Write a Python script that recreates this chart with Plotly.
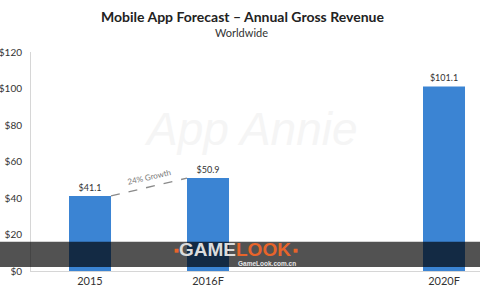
import plotly.graph_objects as go

categories = ["2015", "2016F", " ", "2020F"]
revenue = [41.1, 50.9, None, 101.1]
y_ticks = [0, 20, 40, 60, 80, 100, 120]
y_tick_labels = ["$" + str(v) for v in y_ticks]

title = "Mobile App Forecast – Annual Gross Revenue"
subtitle = "Worldwide"

BAR_W = 0.356
FONT = "Lato, Liberation Sans, sans-serif"

fig = go.Figure()
fig.add_trace(go.Bar(
    x=categories, y=revenue, width=BAR_W,
    marker=dict(color="#3b84d3", line=dict(width=0)),
    text=[("$%.1f" % v) if v is not None else "" for v in revenue],
    textposition="outside", cliponaxis=False,
    textfont=dict(family=FONT, size=9, color="#333333"),
    hoverinfo="skip",
))

# growth dashed connector
i0, i1 = 0, 1
fig.add_shape(type="line", xref="x", yref="y",
              x0=i0 + BAR_W / 2, y0=revenue[i0], x1=i1 - BAR_W / 2, y1=revenue[i1],
              line=dict(color="#8a8a8a", width=1.3, dash="dash"))
growth = round((revenue[i1] / revenue[i0] - 1) * 100)
fig.add_annotation(x=(i0 + i1) / 2, y=(revenue[i0] + revenue[i1]) / 2 + 5.5,
                   xref="x", yref="y", text="%d%% Growth" % growth, showarrow=False,
                   textangle=-13, font=dict(family=FONT, size=8, color="#7a7a7a"))

# App Annie faint watermark
fig.add_annotation(xref="paper", yref="paper", x=0.49, y=0.65, text="App Annie",
                   showarrow=False,
                   font=dict(family="Liberation Sans, sans-serif", size=46, color="#f5f5f5", style="italic"))

# titles
fig.add_annotation(xref="paper", yref="paper", x=0.47, y=1.164, yanchor="middle",
                   text="<b>" + title + "</b>", showarrow=False,
                   font=dict(family=FONT, size=14, color="#222222"))
fig.add_annotation(xref="paper", yref="paper", x=0.468, y=1.087, yanchor="middle",
                   text=subtitle, showarrow=False,
                   font=dict(family=FONT, size=11, color="#333333"))

# GAMELOOK band overlay
fig.add_shape(type="rect", xref="paper", yref="paper", x0=-0.08, x1=1.0,
              y0=0.018, y1=0.133, fillcolor="rgba(0,0,0,0.68)", line=dict(width=0),
              layer="above")
fig.add_annotation(xref="paper", yref="paper", x=0.454, y=0.098, yanchor="middle",
                   text="<span style='color:#dcdcdc'>GAME</span><span style='color:#e8642a'>LOOK</span>",
                   showarrow=False,
                   font=dict(family="Liberation Sans, sans-serif", size=19, color="#dcdcdc", weight="bold"))
for px in [0.313, 0.59]:
    fig.add_annotation(xref="paper", yref="paper", x=px, y=0.095, yanchor="middle",
                       text="■", showarrow=False,
                       font=dict(family="DejaVu Sans", size=5, color="#e8642a"))
fig.add_annotation(xref="paper", yref="paper", x=0.526, y=0.034, yanchor="middle",
                   text="<b>GameLook.com.cn</b>", showarrow=False,
                   font=dict(family="Liberation Sans, sans-serif", size=6.5, color="#e6e6e6"))

fig.update_layout(
    width=480, height=300,
    margin=dict(l=31, r=0, t=52, b=29, autoexpand=False),
    paper_bgcolor="white", plot_bgcolor="white",
    showlegend=False, bargap=0.644,
    font=dict(family=FONT, size=11, color="#333333"),
)
fig.update_xaxes(type="category", categoryorder="array", categoryarray=categories,
                 range=[-0.5, 3.305], showgrid=False, showline=True, linecolor="#d6d6d6",
                 linewidth=1, ticks="", tickfont=dict(size=11, color="#333333"),
                 zeroline=False, automargin=False)
fig.update_yaxes(range=[0, 120], tickvals=y_ticks, ticktext=y_tick_labels,
                 showgrid=False, showline=True, linecolor="#d6d6d6", linewidth=1,
                 ticks="", ticklabelstandoff=6, tickfont=dict(size=10, color="#333333"),
                 zeroline=False, automargin=False)

fig.write_html("out.html")
